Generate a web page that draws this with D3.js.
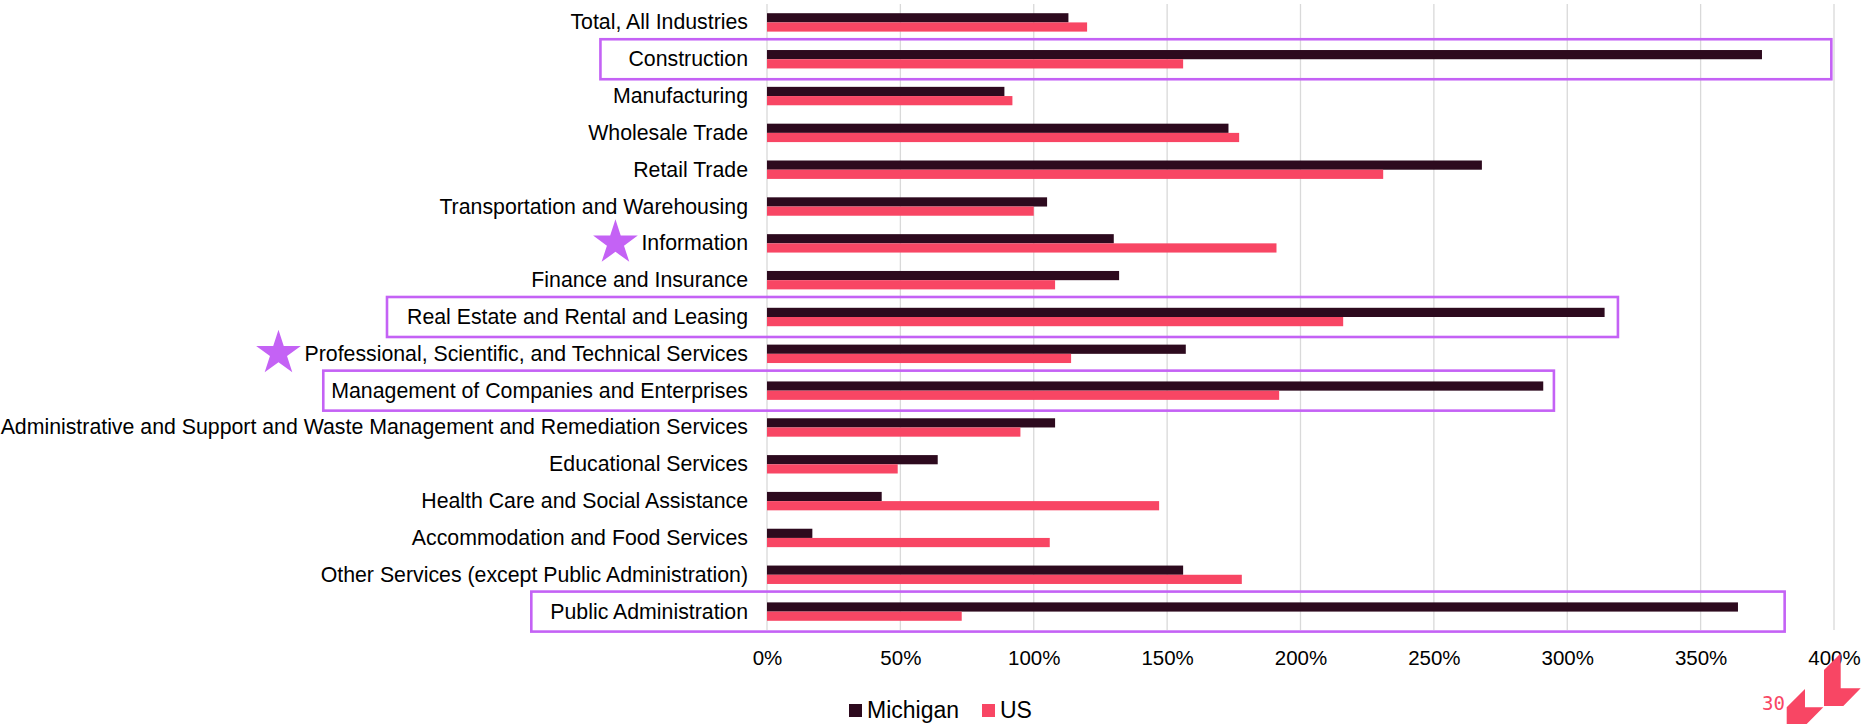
<!DOCTYPE html>
<html>
<head>
<meta charset="utf-8">
<script src="https://cdn.jsdelivr.net/npm/d3@7"></script>
<style>
  body { margin: 0; background: #fff; }
  svg { display: block; font-family: "Liberation Sans", Arial, sans-serif; }
</style>
</head>
<body>
<svg width="1864" height="724"></svg>
<script>
var categories = [
    'Total, All Industries',
    'Construction',
    'Manufacturing',
    'Wholesale Trade',
    'Retail Trade',
    'Transportation and Warehousing',
    'Information',
    'Finance and Insurance',
    'Real Estate and Rental and Leasing',
    'Professional, Scientific, and Technical Services',
    'Management of Companies and Enterprises',
    'Administrative and Support and Waste Management and Remediation Services',
    'Educational Services',
    'Health Care and Social Assistance',
    'Accommodation and Food Services',
    'Other Services (except Public Administration)',
    'Public Administration'
];
var michigan = [113, 373, 89, 173, 268, 105, 130, 132, 314, 157, 291, 108, 64, 43, 17, 156, 364];
var us = [120, 156, 92, 177, 231, 100, 191, 108, 216, 114, 192, 95, 49, 147, 106, 178, 73];
var ticks = [0, 50, 100, 150, 200, 250, 300, 350, 400];
var seriesNames = ['Michigan', 'US'];

// highlighted rows: box reaches "to" (in %), starts "pad" px left of the label
var boxed = [
    {name: 'Construction', to: 399, pad: 28},
    {name: 'Real Estate and Rental and Leasing', to: 319, pad: 20},
    {name: 'Management of Companies and Enterprises', to: 295, pad: 8},
    {name: 'Public Administration', to: 381.5, pad: 19}
];
var starred = ['Information', 'Professional, Scientific, and Technical Services'];

var colors = {Michigan: '#2d0a1e', US: '#f84664'};
var purple = '#c462f5';

var svg = d3.select('svg');
var plotLeft = 767, plotRight = 1834, plotTop = 4, plotBottom = 630;

var x = d3.scaleLinear().domain([0, 400]).range([plotLeft, plotRight]);
var y = d3.scaleBand().domain(categories).range([plotTop, plotBottom])
    .paddingInner(0.5).paddingOuter(0.25);
var sub = d3.scaleBand().domain(seriesNames).range([0, y.bandwidth()]);

// gridlines
svg.append('g')
    .selectAll('line')
    .data(ticks)
    .join('line')
    .attr('x1', function(d) { return x(d); })
    .attr('x2', function(d) { return x(d); })
    .attr('y1', plotTop)
    .attr('y2', plotBottom)
    .attr('stroke', '#d9d9d9')
    .attr('stroke-width', 1.3);

// x axis labels
var xAxis = svg.append('g')
    .attr('transform', 'translate(0,' + (plotBottom + 17) + ')')
    .call(d3.axisBottom(x).tickValues(ticks).tickSize(0).tickFormat(function(d) { return d + '%'; }));
xAxis.select('.domain').remove();
xAxis.selectAll('text')
    .attr('font-size', '20.5px')
    .attr('font-family', '"Liberation Sans", Arial, sans-serif')
    .attr('fill', '#000');

// bars
var rows = categories.map(function(c, i) {
    return {cat: c, vals: [{k: 'Michigan', v: michigan[i]}, {k: 'US', v: us[i]}]};
});

var rowG = svg.append('g')
    .selectAll('g')
    .data(rows)
    .join('g')
    .attr('transform', function(d) { return 'translate(0,' + y(d.cat) + ')'; });

rowG.selectAll('rect')
    .data(function(d) { return d.vals; })
    .join('rect')
    .attr('x', x(0))
    .attr('y', function(d) { return sub(d.k); })
    .attr('width', function(d) { return x(d.v) - x(0); })
    .attr('height', sub.bandwidth())
    .attr('fill', function(d) { return colors[d.k]; });

// category labels
var labels = svg.append('g')
    .selectAll('text')
    .data(categories)
    .join('text')
    .attr('x', plotLeft - 19)
    .attr('y', function(d) { return y(d) + y.bandwidth() / 2 + 7; })
    .attr('text-anchor', 'end')
    .attr('font-size', '21.3px')
    .attr('fill', '#000')
    .text(function(d) { return d; });

var labelLeft = {};
labels.each(function(d) { labelLeft[d] = this.getBBox().x; });

// highlight boxes
svg.append('g')
    .selectAll('rect')
    .data(boxed)
    .join('rect')
    .attr('x', function(d) { return labelLeft[d.name] - d.pad; })
    .attr('y', function(d) { return y(d.name) + y.bandwidth() / 2 - 20; })
    .attr('width', function(d) { return x(d.to) - labelLeft[d.name] + d.pad; })
    .attr('height', 40)
    .attr('fill', 'none')
    .attr('stroke', purple)
    .attr('stroke-width', 2.6);

// stars
var star = d3.symbol().type(d3.symbolStar).size(620);
svg.append('g')
    .selectAll('path')
    .data(starred)
    .join('path')
    .attr('d', star)
    .attr('transform', function(d) {
        return 'translate(' + (labelLeft[d] - 26) + ',' + (y(d) + y.bandwidth() / 2 - 0.5) + ')';
    })
    .attr('fill', purple);

// legend
var legend = svg.append('g').attr('transform', 'translate(849,704)');
var items = [{k: 'Michigan', x: 0}, {k: 'US', x: 133}];
var li = legend.selectAll('g').data(items).join('g')
    .attr('transform', function(d) { return 'translate(' + d.x + ',0)'; });
li.append('rect')
    .attr('width', 13).attr('height', 13)
    .attr('fill', function(d) { return colors[d.k]; });
li.append('text')
    .attr('x', 18).attr('y', 14)
    .attr('font-size', '23px')
    .attr('fill', '#000')
    .text(function(d) { return d.k; });

// page number + logo
svg.append('text')
    .attr('x', 1762).attr('y', 710)
    .attr('font-family', '"DejaVu Sans Mono", monospace')
    .attr('font-size', '19px')
    .attr('fill', colors.US)
    .text('30');

var logo = svg.append('g').attr('fill', colors.US);
logo.append('path')
    .attr('d', 'M1824,670 L1840.7,653.3 L1840.7,688.3 L1860.7,688.3 L1843.3,706 L1824,706 Z');
logo.append('path')
    .attr('d', 'M1786.7,707.3 L1805,689 L1805,707.3 L1823.3,707.3 L1806.7,724 L1805,726 L1786.7,726 Z');
</script>
</body>
</html>
